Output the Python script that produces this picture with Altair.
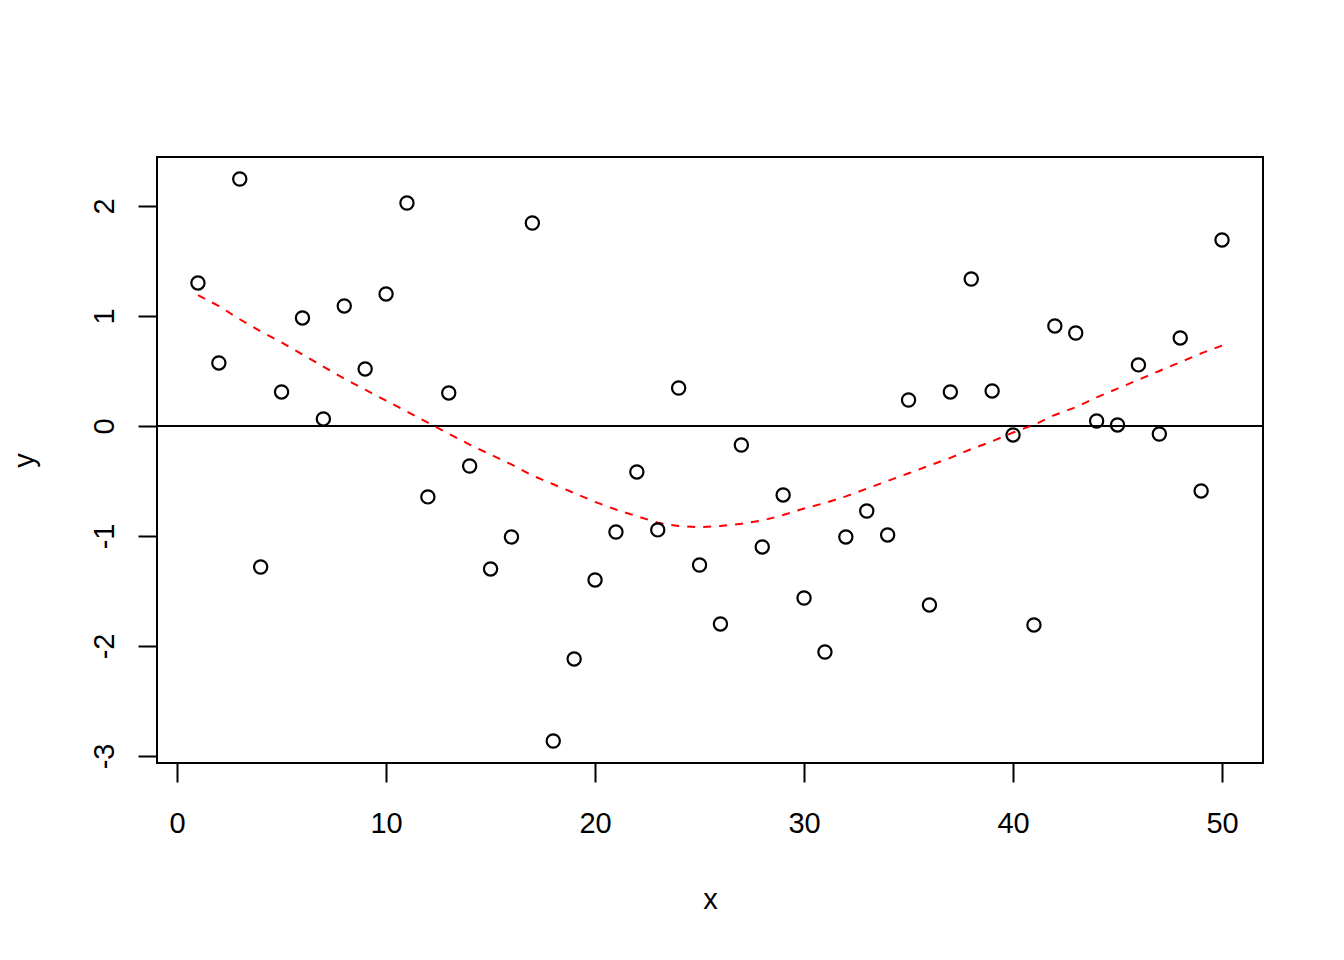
import altair as alt
import pandas as pd

x_vals = [1, 2, 3, 4, 5, 6, 7, 8, 9, 10,
          11, 12, 13, 14, 15, 16, 17, 18, 19, 20,
          21, 22, 23, 24, 25, 26, 27, 28, 29, 30,
          31, 32, 33, 34, 35, 36, 37, 38, 39, 40,
          41, 42, 43, 44, 45, 46, 47, 48, 49, 50]

y_vals = [1.30, 0.573, 2.245, -1.282, 0.309, 0.982, 0.064, 1.091, 0.518, 1.20,
          2.027, -0.645, 0.30, -0.364, -1.30, -1.009, 1.845, -2.864, -2.118, -1.40,
          -0.964, -0.418, -0.945, 0.345, -1.264, -1.80, -0.173, -1.10, -0.627, -1.564,
          -2.055, -1.009, -0.773, -0.991, 0.236, -1.627, 0.309, 1.336, 0.318, -0.082,
          -1.809, 0.909, 0.845, 0.045, 0.009, 0.555, -0.073, 0.80, -0.591, 1.691]

smooth_vals = [1.19, 1.09, 0.97, 0.86, 0.76, 0.65, 0.54, 0.43, 0.33, 0.23,
               0.13, 0.03, -0.07, -0.17, -0.26, -0.35, -0.45, -0.53, -0.61, -0.69,
               -0.76, -0.82, -0.88, -0.91, -0.92, -0.91, -0.89, -0.86, -0.81, -0.75,
               -0.70, -0.64, -0.57, -0.50, -0.43, -0.36, -0.29, -0.21, -0.14, -0.06,
               0.01, 0.10, 0.17, 0.26, 0.34, 0.42, 0.50, 0.58, 0.66, 0.73]

ref_line = [0]

x_ticks = [0, 10, 20, 30, 40, 50]
y_ticks = [-3, -2, -1, 0, 1, 2]

pts = pd.DataFrame({"x": x_vals, "y": y_vals})
smooth = pd.DataFrame({"x": x_vals, "y": smooth_vals})
ref = pd.DataFrame({"y": ref_line})

FONT = "Liberation Sans"

xscale = alt.Scale(domain=[-0.96, 51.96], nice=False, zero=False)
yscale = alt.Scale(domain=[-3.064, 2.445], nice=False, zero=False)

xaxis = alt.Axis(values=x_ticks, title="x", grid=False, domain=False,
                 labelExpr="'' + datum.value",
                 tickSize=19, tickWidth=2, tickColor="black",
                 labelFont=FONT, labelFontSize=29, labelColor="black",
                 labelBaseline="top", labelPadding=27, labelAlign="center",
                 titleFont=FONT, titleFontSize=29, titleFontWeight="normal",
                 titleColor="black", titleX=553, titleY=145,
                 titleBaseline="alphabetic", titleAlign="center")

yaxis = alt.Axis(values=y_ticks, title="y", grid=False, domain=False,
                 labelExpr="'' + datum.value",
                 tickSize=19, tickWidth=2, tickColor="black",
                 labelFont=FONT, labelFontSize=29, labelColor="black",
                 labelAngle=270, labelAlign="center", labelBaseline="bottom",
                 labelPadding=19,
                 titleFont=FONT, titleFontSize=29, titleFontWeight="normal",
                 titleColor="black", titleAngle=270, titleX=-124, titleY=303,
                 titleBaseline="alphabetic", titleAlign="center")

points = alt.Chart(pts).mark_point(
    shape="circle", filled=False, stroke="black", strokeWidth=2.2, size=175, opacity=1
).encode(
    x=alt.X("x:Q", scale=xscale, axis=xaxis),
    y=alt.Y("y:Q", scale=yscale, axis=yaxis),
)

hline = alt.Chart(ref).mark_rule(color="black", strokeWidth=2).encode(
    y=alt.Y("y:Q", scale=yscale)
)

curve = alt.Chart(smooth).mark_line(
    color="#FF0000", strokeWidth=2, strokeDash=[8, 8]
).encode(
    x=alt.X("x:Q", scale=xscale),
    y=alt.Y("y:Q", scale=yscale),
)

chart = alt.layer(hline, curve, points).properties(
    width=1106, height=606,
    autosize=alt.AutoSizeParams(type="none"),
    padding={"left": 149, "top": 149, "right": 60, "bottom": 170},
    background="white",
).configure_view(
    stroke="black", strokeWidth=2
)

chart.save("out.html", embed_options={"renderer": "svg", "actions": False})
